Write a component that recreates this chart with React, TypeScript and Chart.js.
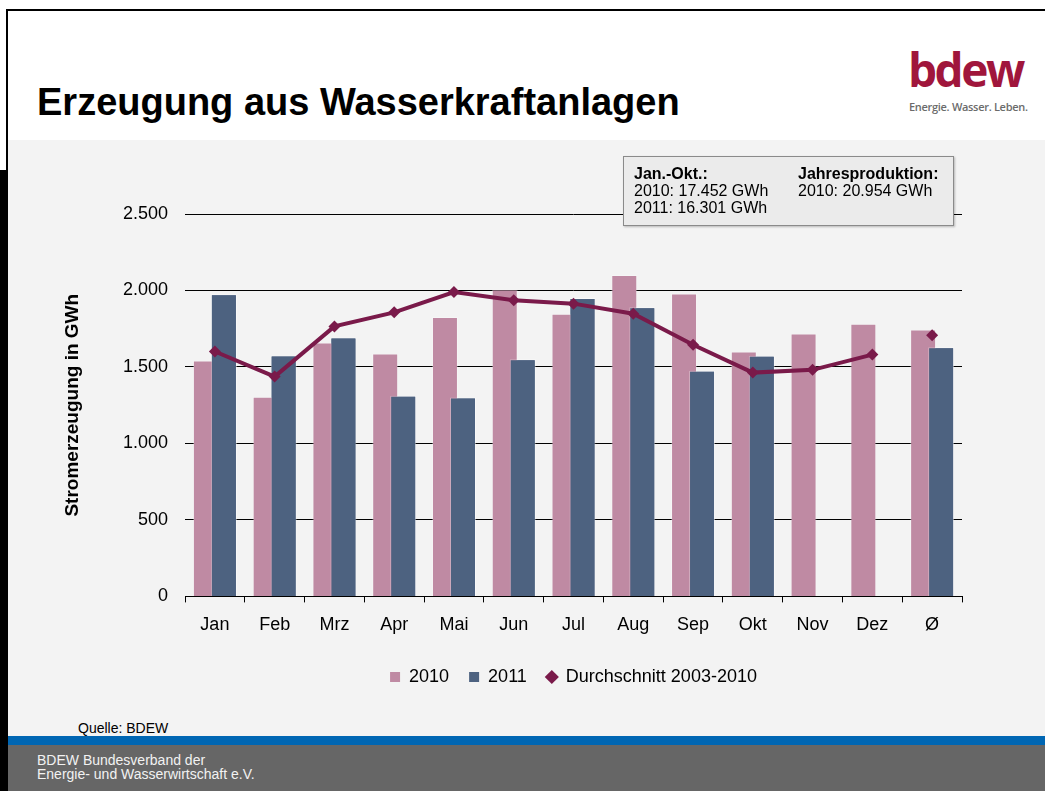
import React, { useEffect, useRef } from "react";
import { Chart, registerables } from "chart.js";

Chart.register(...registerables);

const categories = ["Jan", "Feb", "Mrz", "Apr", "Mai", "Jun", "Jul", "Aug", "Sep", "Okt", "Nov", "Dez", "Ø"];
const values2010 = [1542, 1306, 1660, 1588, 1826, 2006, 1848, 2102, 1980, 1601, 1719, 1783, 1745];
const values2011 = [1975, 1575, 1693, 1312, 1301, 1551, 1951, 1890, 1476, 1573, null, null, 1629];
const average0310 = [1601, 1437, 1765, 1857, 1990, 1936, 1914, 1848, 1645, 1463, 1481, 1581, null];
const averageYear = [null, null, null, null, null, null, null, null, null, null, null, null, 1708];
const yTickLabels = ["0", "500", "1.000", "1.500", "2.000", "2.500"];
const seriesLabels = ["2010", "2011", "Durchschnitt 2003-2010"];

const PINK = "#bf8aa3";
const BLUE = "#4d6280";
const MAROON = "#7a1a4a";
const FONT = "'Liberation Sans', Arial, sans-serif";

// 2010 is grouped left (lower order), but 2011 must be painted over it.
const redraw2011OnTop = {
  id: "redraw2011OnTop",
  afterDatasetDraw(chart: any, args: any) {
    if (args.index === 0) {
      const meta = chart.getDatasetMeta(1);
      if (meta && meta.visible !== false) meta.controller.draw();
    }
  },
};

export default function App() {
  const canvasRef = useRef<HTMLCanvasElement | null>(null);

  useEffect(() => {
    const canvas = canvasRef.current;
    if (!canvas) return;
    const chart = new Chart(canvas, {
      type: "bar",
      data: {
        labels: categories,
        datasets: [
          {
            type: "bar",
            label: seriesLabels[0],
            data: values2010,
            backgroundColor: PINK,
            borderColor: "rgba(255,255,255,0.3)",
            borderWidth: 1,
            barPercentage: 1.444,
            categoryPercentage: 0.602,
            order: 2,
          },
          {
            type: "bar",
            label: seriesLabels[1],
            data: values2011,
            backgroundColor: BLUE,
            borderColor: "rgba(255,255,255,0.3)",
            borderWidth: 1,
            barPercentage: 1.444,
            categoryPercentage: 0.602,
            order: 3,
          },
          {
            type: "line",
            label: seriesLabels[2],
            data: average0310,
            borderColor: MAROON,
            backgroundColor: MAROON,
            borderWidth: 4,
            pointStyle: "rectRot",
            pointRadius: 6,
            pointBorderWidth: 0,
            spanGaps: false,
            order: 1,
          },
          {
            type: "line",
            label: "Ø-Durchschnitt",
            data: averageYear,
            borderColor: MAROON,
            backgroundColor: MAROON,
            showLine: false,
            pointStyle: "rectRot",
            pointRadius: 6,
            pointBorderWidth: 0,
            order: 0,
          },
        ],
      } as any,
      options: {
        responsive: false,
        animation: false,
        devicePixelRatio: 1,
        layout: { padding: { top: 64, right: 18, left: 0, bottom: 0 } },
        plugins: {
          tooltip: { enabled: false },
          legend: {
            position: "bottom",
            fullSize: false,
            labels: {
              usePointStyle: true,
              boxWidth: 10,
              boxHeight: 10,
              padding: 20,
              color: "#000",
              font: { size: 18, family: FONT },
              filter: (item: any) => item.datasetIndex !== 3,
              sort: (a: any, b: any) => a.datasetIndex - b.datasetIndex,
              generateLabels: (c: any) => {
                const base = (Chart.defaults.plugins.legend.labels as any).generateLabels(c);
                return base.map((it: any) => ({
                  ...it,
                  pointStyle: it.datasetIndex === 2 || it.datasetIndex === 3 ? "rectRot" : "rect",
                  lineWidth: 0,
                  strokeStyle: it.fillStyle,
                }));
              },
            },
          },
        },
        scales: {
          x: {
            grid: {
              display: true,
              drawOnChartArea: false,
              drawTicks: true,
              tickLength: 6,
              color: "#000",
              offset: true,
            },
            border: { display: true, color: "#000", width: 1 },
            ticks: {
              color: "#000",
              font: { size: 18, family: FONT },
              padding: 12,
              maxRotation: 0,
              autoSkip: false,
            },
          },
          y: {
            min: 0,
            max: 2500,
            afterFit: (s: any) => {
              s.width = 125;
            },
            ticks: {
              stepSize: 500,
              color: "#000",
              font: { size: 18, family: FONT },
              padding: 17,
              callback: (v: any) => yTickLabels[Math.round(Number(v) / 500)],
            },
            grid: { color: "#000", lineWidth: 1, drawTicks: false },
            border: { display: false },
            title: {
              display: true,
              text: "Stromerzeugung in GWh",
              color: "#000",
              font: { size: 19, weight: "bold", family: FONT },
              padding: { top: 1, bottom: 0 },
            },
          },
        },
      } as any,
      plugins: [redraw2011OnTop],
    });
    return () => chart.destroy();
  }, []);

  const abs = (s: React.CSSProperties): React.CSSProperties => ({ position: "absolute", ...s });

  return (
    <div
      style={{
        position: "fixed",
        left: 0,
        top: 0,
        width: 1045,
        height: 791,
        background: "#fff",
        overflow: "hidden",
        fontFamily: FONT,
      }}
    >
      <div style={abs({ left: 8, top: 140, width: 1037, height: 596, background: "#f3f3f3" })} />
      <div style={abs({ left: 8, top: 736, width: 1037, height: 9, background: "#0066b3" })} />
      <div style={abs({ left: 8, top: 745, width: 1037, height: 46, background: "#666666" })} />
      <div style={abs({ left: 6, top: 9, width: 1039, height: 2, background: "#000" })} />
      <div style={abs({ left: 6, top: 9, width: 2, height: 782, background: "#000" })} />
      <div style={abs({ left: 0, top: 170, width: 8, height: 621, background: "#000" })} />

      <div
        style={abs({
          left: 37,
          top: 83,
          fontSize: 38,
          lineHeight: "38px",
          fontWeight: "bold",
          color: "#000",
          whiteSpace: "nowrap",
        })}
      >
        Erzeugung aus Wasserkraftanlagen
      </div>

      <div
        style={abs({
          left: 908,
          top: 46,
          fontSize: 46,
          lineHeight: "46px",
          fontWeight: 700,
          fontFamily: "'Open Sans', sans-serif",
          color: "#a0163c",
          letterSpacing: -2.5,
          whiteSpace: "nowrap",
        })}
      >
        bdew
      </div>
      <div
        style={abs({
          left: 909,
          top: 101,
          fontSize: 11,
          lineHeight: "12px",
          fontWeight: 600,
          fontFamily: "'Open Sans', sans-serif",
          color: "#6b6b6b",
          letterSpacing: -0.3,
          whiteSpace: "nowrap",
        })}
      >
        Energie. Wasser. Leben.
      </div>

      <canvas
        ref={canvasRef}
        width={920}
        height={546}
        style={abs({ left: 60, top: 150, width: 920, height: 546 })}
      />

      <div
        style={abs({
          left: 623,
          top: 156,
          width: 329,
          height: 68,
          background: "#ebebeb",
          border: "1px solid #8a8a8a",
          boxShadow: "1px 1px 2px rgba(0,0,0,0.25)",
          fontSize: 16,
          lineHeight: "17px",
          color: "#000",
        })}
      >
        <div style={abs({ left: 10, top: 8, whiteSpace: "nowrap" })}>
          <div style={{ fontWeight: "bold" }}>Jan.-Okt.:</div>
          <div>2010: 17.452 GWh</div>
          <div>2011: 16.301 GWh</div>
        </div>
        <div style={abs({ left: 174, top: 8, whiteSpace: "nowrap" })}>
          <div style={{ fontWeight: "bold" }}>Jahresproduktion:</div>
          <div>2010: 20.954 GWh</div>
        </div>
      </div>

      <div style={abs({ left: 78, top: 720, fontSize: 14, lineHeight: "16px", color: "#000", whiteSpace: "nowrap" })}>
        Quelle: BDEW
      </div>

      <div style={abs({ left: 37, top: 753, fontSize: 14, lineHeight: "14px", color: "#f2f2f2", whiteSpace: "nowrap" })}>
        <div>BDEW Bundesverband der</div>
        <div>Energie- und Wasserwirtschaft e.V.</div>
      </div>
    </div>
  );
}
